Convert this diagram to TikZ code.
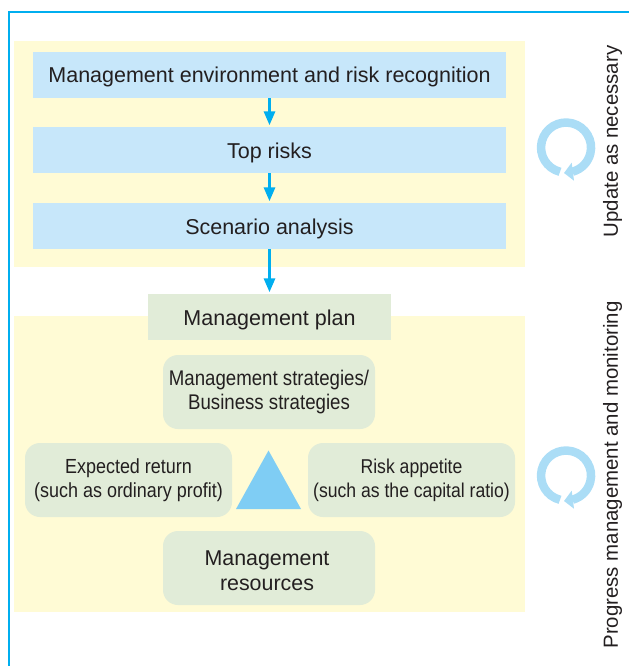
\documentclass[tikz,border=0pt]{standalone}
\usepackage{fontspec}
\setmainfont{Liberation Sans}
\newfontfamily\narrowfont[FakeStretch=0.88]{Liberation Sans}
\usetikzlibrary{arrows.meta}
\definecolor{framecol}{HTML}{00AEEF}
\definecolor{yellowcol}{HTML}{FFFBD5}
\definecolor{boxcol}{HTML}{C7E7FA}
\definecolor{greencol}{HTML}{E1ECD8}
\definecolor{ringcol}{HTML}{ABDDF6}
\definecolor{trianglecol}{HTML}{7FCDF4}
\definecolor{textcol}{HTML}{231F20}
\tikzset{
	bluebox/.style={fill=boxcol,minimum width=473pt,minimum height=46pt,inner sep=0pt,
		text=textcol,text height=18pt,text depth=2pt,font=\fontsize{21.5}{25}\selectfont},
	planbox/.style={fill=greencol,minimum width=243pt,minimum height=46pt,inner sep=0pt,
		text=textcol,text height=18pt,text depth=2pt,font=\fontsize{21.5}{25}\selectfont},
	roundbox/.style={fill=greencol,rounded corners=15pt,minimum height=74pt,inner sep=0pt,
		text=textcol,align=center},
	flowarrow/.style={draw=framecol,line width=3pt,-{Triangle[length=14pt,width=11pt]},shorten >=1.5pt},
	sidelabel/.style={rotate=90,text=textcol,inner sep=0pt,font=\fontsize{20.4}{24}\selectfont}
}
\begin{document}
\begin{tikzpicture}[x=1pt,y=-1pt]
	\useasboundingbox (0,0) rectangle (629,666);
	%frame and backgrounds
	\draw [framecol,line width=2pt] (629,12.5) -- (8.7,12.5) -- (8.7,666);
	\fill [yellowcol] (14,41) rectangle (525,267);
	\fill [yellowcol] (14,316) rectangle (525,612);
	%boxes
	\node [bluebox] (recognition) at (269.5,75) {Management environment and risk recognition};
	\node [bluebox] (toprisks) at (269.5,150) {Top risks};
	\node [bluebox] (scenario) at (269.5,226) {Scenario analysis};
	\node [planbox] (plan) at (269.5,317) {Management plan};
	\node [roundbox,minimum width=212pt,font=\fontsize{21.2}{24}\narrowfont] (strategies) at (269,392)
		{Management strategies/\\Business strategies};
	\node [roundbox,minimum width=207pt,font=\fontsize{20.4}{24}\narrowfont] (return) at (128.5,480)
		{Expected return\\(such as ordinary profit)};
	\node [roundbox,minimum width=207pt,font=\fontsize{20}{24}\narrowfont] (appetite) at (411.5,480)
		{Risk appetite\\(such as the capital ratio)};
	\fill [greencol,rounded corners=15pt] (163,531) rectangle (375,605);
	\node [inner sep=0pt,text=textcol,align=center,font=\fontsize{21.4}{24.5}\selectfont] (resources) at (267,570.5)
		{Management\\resources};
	%triangle
	\fill [trianglecol] (268.5,450.5) -- (301,509) -- (236,509) -- cycle;
	%arrows
	\draw [flowarrow] (recognition) -- (toprisks);
	\draw [flowarrow] (toprisks) -- (scenario);
	\draw [flowarrow] (scenario) -- (plan);
	%rings
	\foreach \y in {147.5,475.5}
	{
		\draw [ringcol,line width=8.5pt] (560,\y+24.3) arc [start angle=256,end angle=-75,radius=25pt];
		\fill [ringcol] (564,\y+25.5) -- (571.7,\y+15.2) -- (574,\y+33.2) -- cycle;
	}
	%side labels
	\node [sidelabel] (update) at (612.5,141.5) {Update as necessary};
	\node [sidelabel] (progress) at (612.5,475) {Progress management and monitoring};
\end{tikzpicture}
\end{document}
